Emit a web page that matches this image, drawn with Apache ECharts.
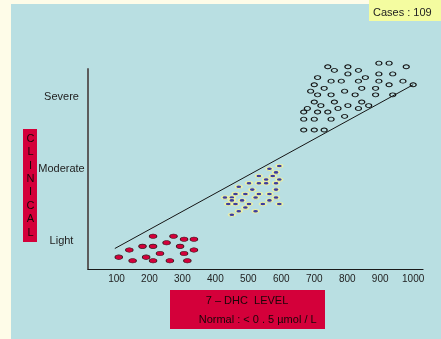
<!DOCTYPE html>
<html>
<head>
<meta charset="utf-8">
<script src="https://cdn.jsdelivr.net/npm/echarts@6/dist/echarts.min.js"></script>
<style>
html,body{margin:0;padding:0;background:#FEFCE8;}
#chart{width:441px;height:339px;}
</style>
</head>
<body>
<div id="chart"></div>
<script>
// ---- data ----
const xTickValues = [100, 200, 300, 400, 500, 600, 700, 800, 900, 1000];
const yCategories = ['Light', 'Moderate', 'Severe'];
const yCategoryValues = [1, 2, 3];
const casesLabel = 'Cases : 109';
const xTitle1 = '7 \u2013 DHC  LEVEL';
const xTitle2 = 'Normal : < 0 . 5 \u00b5mol / L';
const yTitle = 'CLINICAL';

const lightX = [211, 273, 305, 335, 252, 179, 211, 293, 139, 335, 232, 305, 107, 190, 149, 211, 262, 315];
const lightY = [1.06, 1.06, 1.02, 1.02, 0.97, 0.92, 0.92, 0.92, 0.87, 0.87, 0.82, 0.82, 0.77, 0.77, 0.72, 0.72, 0.72, 0.72];

const moderateX = [594, 564, 584, 532, 574, 554, 594, 502, 532, 554, 584, 471, 512, 584, 461, 491, 532, 564, 429, 450, 522, 584, 450, 481, 564, 439, 461, 502, 544, 594, 491, 471, 522, 450];
const moderateY = [2.04, 2.00, 1.95, 1.90, 1.90, 1.85, 1.85, 1.80, 1.80, 1.80, 1.80, 1.75, 1.71, 1.71, 1.65, 1.65, 1.65, 1.65, 1.60, 1.60, 1.60, 1.60, 1.56, 1.56, 1.56, 1.51, 1.51, 1.51, 1.51, 1.51, 1.46, 1.41, 1.41, 1.36];

const severeX = [896, 927, 741, 802, 979, 761, 834, 802, 896, 938, 710, 855, 751, 782, 834, 896, 969, 700, 927, 1000, 730, 844, 886, 689, 792, 710, 751, 824, 886, 938, 700, 761, 844, 720, 802, 865, 679, 772, 834, 668, 710, 741, 792, 668, 700, 751, 668, 700, 730];
const severeY = [3.47, 3.47, 3.42, 3.42, 3.42, 3.37, 3.37, 3.32, 3.32, 3.32, 3.27, 3.27, 3.22, 3.22, 3.22, 3.22, 3.22, 3.17, 3.17, 3.17, 3.12, 3.12, 3.12, 3.08, 3.08, 3.03, 3.03, 3.03, 3.03, 3.03, 2.93, 2.93, 2.93, 2.88, 2.88, 2.88, 2.84, 2.84, 2.84, 2.79, 2.79, 2.79, 2.73, 2.69, 2.69, 2.69, 2.54, 2.54, 2.54];

const trendX = [95, 1000];
const trendY = [0.89, 3.17];

// ---- build ----
const zip = (xs, ys) => xs.map((x, i) => [x, ys[i]]);
const ellipse = 'path://M0,5a10,5 0 1,0 20,0a10,5 0 1,0 -20,0z';
const FONT = 'Liberation Sans, Arial, sans-serif';
const darkText = {color: '#1a0608', fontSize: 11, fontFamily: FONT, fontWeight: 'normal'};

const chart = echarts.init(document.getElementById('chart'), null, {renderer: 'canvas'});
chart.setOption({
  animation: false,
  backgroundColor: '#FEFCE8',
  textStyle: {fontFamily: FONT},
  grid: {left: 88, top: 69, right: 18, bottom: 70, containLabel: false},
  title: [
    {text: casesLabel, left: 373, top: 7, padding: 0, textStyle: Object.assign({}, darkText, {color: '#222'}), z: 12},
    {text: yTitle.split('').join('\n'), left: 30.5, top: 132, padding: 0, textAlign: 'center',
     textStyle: Object.assign({}, darkText, {lineHeight: 13.43}), z: 12},
    {text: xTitle1, left: 247, top: 295, padding: 0, textAlign: 'center', textStyle: darkText, z: 12},
    {text: xTitle2, left: 198.7, top: 314.5, padding: 0, textStyle: darkText, z: 12}
  ],
  xAxis: {
    type: 'value', min: 13.65, max: 1029.8,
    axisLine: {show: true, lineStyle: {color: '#1a1a1a', width: 1.2}},
    axisTick: {show: false},
    splitLine: {show: false},
    axisLabel: {customValues: xTickValues, color: '#222', fontSize: 10, margin: 5, fontFamily: FONT,
      formatter: v => String(v)}
  },
  yAxis: {
    type: 'value', min: 0.605, max: 3.389,
    axisLine: {show: true, lineStyle: {color: '#5c5c5c', width: 2}},
    axisTick: {show: false},
    splitLine: {show: false},
    axisLabel: {
      customValues: yCategoryValues, color: '#222', fontSize: 11, margin: 26.5, align: 'center', fontFamily: FONT,
      formatter: v => yCategories[yCategoryValues.indexOf(v)] || ''
    }
  },
  graphic: [
    {type: 'rect', z: -10, shape: {x: 11, y: 4, width: 430, height: 335}, style: {fill: '#B9DFE2'}},
    {type: 'rect', z: -5, shape: {x: 369, y: 0, width: 72, height: 21}, style: {fill: '#F4FCA0'}},
    {type: 'rect', z: -5, shape: {x: 23, y: 129, width: 14, height: 113}, style: {fill: '#D4003A'}},
    {type: 'rect', z: -5, shape: {x: 170, y: 290, width: 155, height: 39}, style: {fill: '#D4003A'}}
  ],
  series: [
    {
      type: 'line', data: zip(trendX, trendY), symbol: 'none', clip: false, z: 1,
      lineStyle: {color: '#151515', width: 1}
    },
    {
      type: 'scatter', data: zip(lightX, lightY), clip: false, z: 3,
      symbol: ellipse, symbolSize: [7.5, 4.5],
      itemStyle: {color: '#D3003A', borderColor: '#3a1a20', borderWidth: 0.8, opacity: 1}
    },
    {
      type: 'scatter', data: zip(moderateX, moderateY), clip: false, z: 3,
      symbol: ellipse, symbolSize: [6.5, 3.5],
      itemStyle: {color: '#3D3D9E', borderColor: '#EEF2A6', borderWidth: 1.3, opacity: 1}
    },
    {
      type: 'scatter', data: zip(severeX, severeY), clip: false, z: 3,
      symbol: ellipse, symbolSize: [6, 4],
      itemStyle: {color: 'rgba(0,0,0,0)', borderColor: '#111', borderWidth: 1, opacity: 1}
    }
  ]
});
</script>
</body>
</html>
